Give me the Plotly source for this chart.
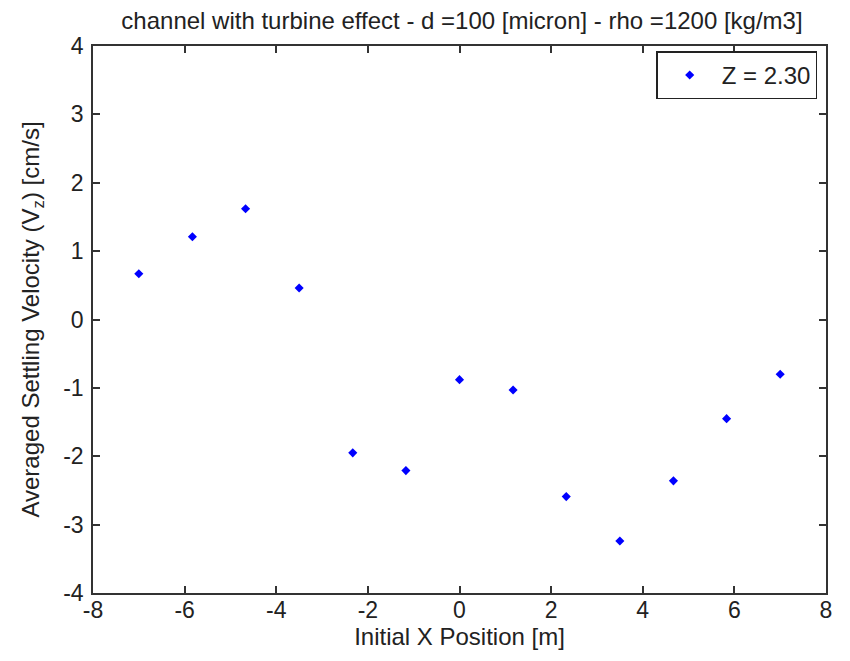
import plotly.graph_objects as go

x_pos = [-7.0, -5.83, -4.67, -3.5, -2.33, -1.17, 0.0, 1.17, 2.33, 3.5, 4.67, 5.83, 7.0]
v_z = [0.67, 1.21, 1.62, 0.46, -1.95, -2.21, -0.88, -1.03, -2.59, -3.24, -2.36, -1.45, -0.80]
series_name = "Z = 2.30"
x_ticks = [-8, -6, -4, -2, 0, 2, 4, 6, 8]
y_ticks = [-4, -3, -2, -1, 0, 1, 2, 3, 4]

font_family = "Liberation Sans, Arial, Helvetica, sans-serif"
txt = "#222222"
fs = 23
fs_title = 24

W, H = 842, 653  # page body has an 8px margin

fig = go.Figure()
fig.add_trace(go.Scatter(
    x=x_pos, y=v_z, mode="markers", name=series_name,
    marker=dict(symbol="diamond", size=7, color="#0000ff"),
))

axis_common = dict(
    showgrid=False, zeroline=False, showline=True, linecolor="#333333", linewidth=1.5,
    mirror="ticks", ticks="inside", ticklen=7, tickcolor="#333333", tickwidth=1.5,
    tickfont=dict(size=fs, color=txt, family=font_family), automargin=False,
)

fig.update_layout(
    width=W, height=H,
    margin=dict(l=85, r=24, t=38, b=68),
    paper_bgcolor="white", plot_bgcolor="white",
    font=dict(family=font_family, color=txt),
    title=dict(text="channel with turbine effect - d =100 [micron] - rho =1200 [kg/m3]",
               x=454 / W, xanchor="center", xref="container",
               y=1 - 13 / H, yanchor="middle", yref="container", automargin=False,
               font=dict(size=fs_title, color=txt, family=font_family)),
    xaxis=dict(range=[-8, 8], tickvals=x_ticks, ticktext=[str(t) for t in x_ticks],
               ticklabelstandoff=-4,
               title=dict(text="Initial X Position [m]", standoff=6,
                          font=dict(size=fs_title, color=txt, family=font_family)),
               **axis_common),
    yaxis=dict(range=[-4, 4], tickvals=y_ticks, ticktext=[str(t) for t in y_ticks],
               ticklabelstandoff=3,
               title=dict(text="Averaged Settling Velocity (V<sub>z</sub>) [cm/s]", standoff=17,
                          font=dict(size=fs_title, color=txt, family=font_family)),
               **axis_common),
    showlegend=True,
    legend=dict(x=0.988, y=0.99, xanchor="right", yanchor="top",
                bgcolor="white", bordercolor="#222222", borderwidth=1.5,
                font=dict(size=fs_title, color=txt, family=font_family),
                itemwidth=54, entrywidth=165, entrywidthmode="pixels"),
)

fig.write_html("out.html")
